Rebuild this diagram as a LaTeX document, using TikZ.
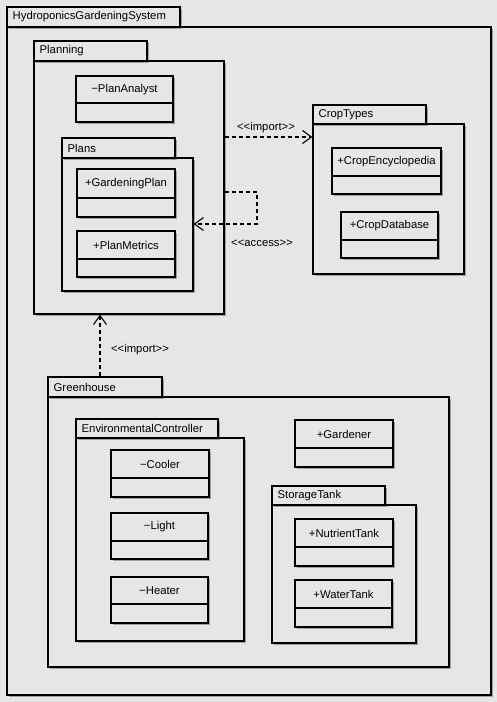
\documentclass[tikz,border=0pt]{standalone}
\usepackage{fontspec}
\setmainfont{Liberation Sans}
\usetikzlibrary{arrows.meta,fit,shadows}
\definecolor{paper}{HTML}{E6E6E6}
\tikzset{
  box/.style={draw=black, line width=1.2pt, fill=paper, inner sep=0pt,
    drop shadow={shadow xshift=1.6pt, shadow yshift=-1.6pt, fill=black!70, opacity=0.45}},
  lbl/.style={font=\fontsize{11.3}{13}\selectfont, inner sep=0pt},
  divider/.style={draw=black, line width=1.1pt},
  dep/.style={draw=black, line width=1.1pt, dash pattern=on 4pt off 3pt,
    -{Straight Barb[length=9pt,width=13pt,line width=1.1pt]}},
}
\newcommand{\umlpkg}[8]{%
  \node[box, fit={(#2,#5) (#6,#7)}] (#1) {};
  \node[box, fit={(#2,#3) (#4,#5)}] (#1-tab) {};
  \node[lbl, anchor=west] (#1-label) at ({#2+5.5},{(#3+#5)/2}) {#8};
}
\newcommand{\umlclass}[7]{%
  \node[box, fit={(#2,#3) (#4,#5)}] (#1) {};
  \draw[divider] (#2,#6) -- (#4,#6);
  \node[lbl] (#1-label) at ({(#2+#4)/2},{(#3+#6)/2}) {#7};
}
\begin{document}
\begin{tikzpicture}[x=1pt,y=-1pt]
\fill[paper] (0,0) rectangle (497,702);
\useasboundingbox (0,0) rectangle (497,702);

% outer package
\umlpkg{Hydro}{7}{7}{180}{27}{491}{695}{HydroponicsGardeningSystem}

% Planning
\umlpkg{Planning}{34}{41}{147}{61}{224}{314}{Planning}
\umlclass{PlanAnalyst}{76}{76}{173}{122}{103}{−PlanAnalyst}
\umlpkg{Plans}{62}{138}{175}{158}{193}{291}{Plans}
\umlclass{GardeningPlan}{77}{169}{175}{217}{198}{+GardeningPlan}
\umlclass{PlanMetrics}{77}{231}{175}{277}{259}{+PlanMetrics}

% CropTypes
\umlpkg{CropTypes}{313}{105}{426}{124}{464}{274}{CropTypes}
\umlclass{CropEncyclopedia}{332}{148}{441}{194}{176}{+CropEncyclopedia}
\umlclass{CropDatabase}{341}{212}{438}{258}{240}{+CropDatabase}

% Greenhouse
\umlpkg{Greenhouse}{48}{377}{162}{397}{449}{667}{Greenhouse}
\umlpkg{EnvCtrl}{76}{419}{218}{438}{244}{641}{EnvironmentalController}
\umlclass{Cooler}{111}{450}{209}{497}{478}{−Cooler}
\umlclass{Light}{111}{513}{208}{559}{541}{−Light}
\umlclass{Heater}{111}{577}{208}{623}{604}{−Heater}
\umlclass{Gardener}{295}{420}{393}{467}{448}{+Gardener}
\umlpkg{StorageTank}{272}{486}{385}{505}{416}{643}{StorageTank}
\umlclass{NutrientTank}{295}{519}{393}{566}{547}{+NutrientTank}
\umlclass{WaterTank}{295}{580}{392}{627}{608}{+WaterTank}

% dependencies
\draw[dep] (Planning.east |- 0,137) -- (CropTypes.west |- 0,137);
\node[lbl] (importTop) at (266,128) {<{}<import>{}>};

\draw[dep] (Planning.east |- 0,192) -- (257,192) -- (257,224) -- (Plans.east |- 0,224);
\node[lbl] (access) at (262,243) {<{}<access>{}>};

\draw[dep] (100,0 |- Greenhouse-tab.north) -- (100,0 |- Planning.south);
\node[lbl] (importLow) at (140,350) {<{}<import>{}>};
\end{tikzpicture}
\end{document}
